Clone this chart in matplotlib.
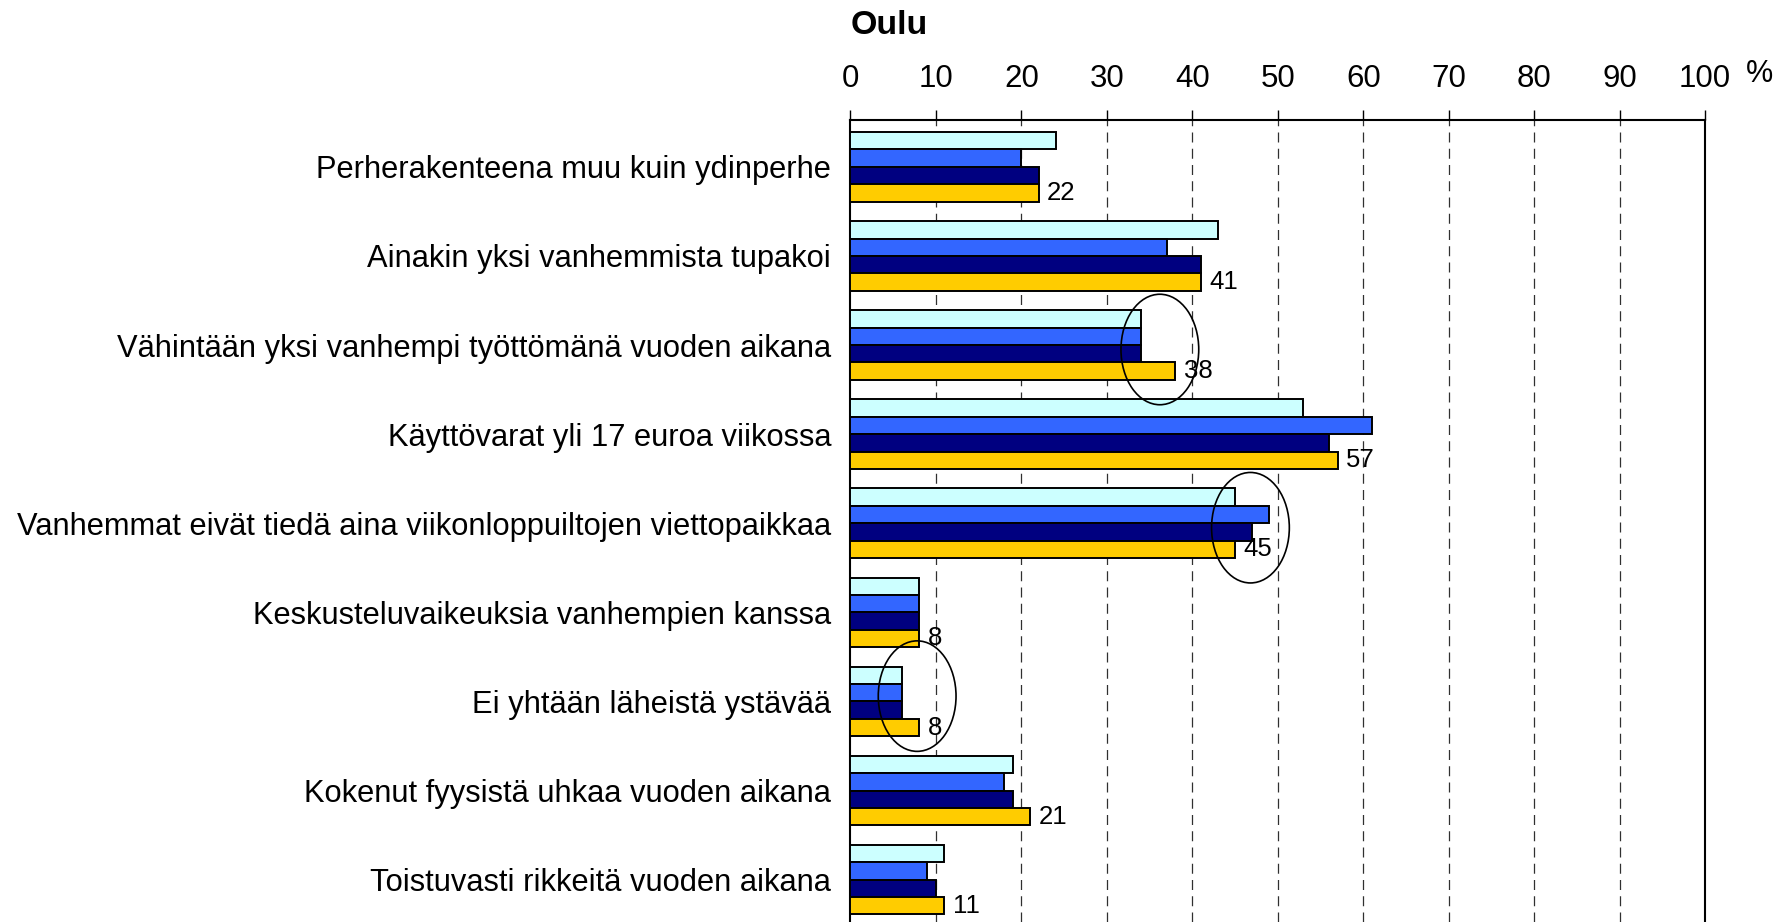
import numpy as np
import matplotlib.pyplot as plt
from matplotlib.patches import Ellipse

plt.rcParams['font.family'] = ['Liberation Sans', 'DejaVu Sans']

###### Data #######
categories = [
    'Perherakenteena muu kuin ydinperhe',
    'Ainakin yksi vanhemmista tupakoi',
    'Vähintään yksi vanhempi työttömänä vuoden aikana',
    'Käyttövarat yli 17 euroa viikossa',
    'Vanhemmat eivät tiedä aina viikonloppuiltojen viettopaikkaa',
    'Keskusteluvaikeuksia vanhempien kanssa',
    'Ei yhtään läheistä ystävää',
    'Kokenut fyysistä uhkaa vuoden aikana',
    'Toistuvasti rikkeitä vuoden aikana',
]
series_1 = [24, 43, 34, 53, 45, 8, 6, 19, 11]   # light cyan
series_2 = [20, 37, 34, 61, 49, 8, 6, 18, 9]    # blue
series_3 = [22, 41, 34, 56, 47, 8, 6, 19, 10]   # navy
series_4 = [22, 41, 38, 57, 45, 8, 8, 21, 11]   # yellow (labelled)
ticks = list(range(0, 101, 10))

# circled groups: (group index, x centre, vertical offset)
circled = [(2, 36.2, 0.05), (4, 46.8, 0.05), (6, 7.8, -0.06)]
###################

colors = ['#CCFFFF', '#3366FF', '#000080', '#FFCC00']
series = [series_1, series_2, series_3, series_4]

fig = plt.figure(figsize=(17.86, 9.22), dpi=100)
ax = fig.add_axes([0.4762, 0.0, 0.4785, 0.8698])

bh = 0.195
centers = np.arange(len(categories)) + 0.525
for j, (vals, c) in enumerate(zip(series, colors)):
    ax.barh(centers + (j - 1.5) * bh, vals, height=bh, color=c,
            edgecolor='black', linewidth=1.4, zorder=3)

# value labels for the last series
for y, v in zip(centers + 1.5 * bh, series_4):
    ax.text(v + 1.0, y, str(v), va='center', ha='left', fontsize=18.5, zorder=4)

for gi, xc, dy in circled:
    ax.add_patch(Ellipse((xc, centers[gi] + dy), 9.1, 1.24, fill=False,
                         edgecolor='black', linewidth=1.2, zorder=5))

ax.set_xlim(0, 100)
ax.set_ylim(9.0, 0)
ax.xaxis.tick_top()
ax.set_xticks(ticks)
ax.set_xticklabels([str(t) for t in ticks], fontsize=22.5)
ax.tick_params(axis='x', direction='out', length=7, width=1, pad=12)
ax.set_yticks(centers)
ax.set_yticklabels(categories, fontsize=22.2)
ax.tick_params(axis='y', length=0, pad=14)

for t in ticks[1:-1]:
    ax.axvline(t, color='#303030', linewidth=0.9, linestyle=(0, (8, 5)), zorder=1)

ax.spines['bottom'].set_visible(False)
for s in ['top', 'left', 'right']:
    ax.spines[s].set_linewidth(1.5)

fig.text(0.4762, 0.972, 'Oulu', fontsize=24.5, fontweight='bold', ha='left', va='center')
fig.text(0.985, 0.92, '%', fontsize=22, ha='center', va='center')

fig.savefig('out.png', dpi=100)
